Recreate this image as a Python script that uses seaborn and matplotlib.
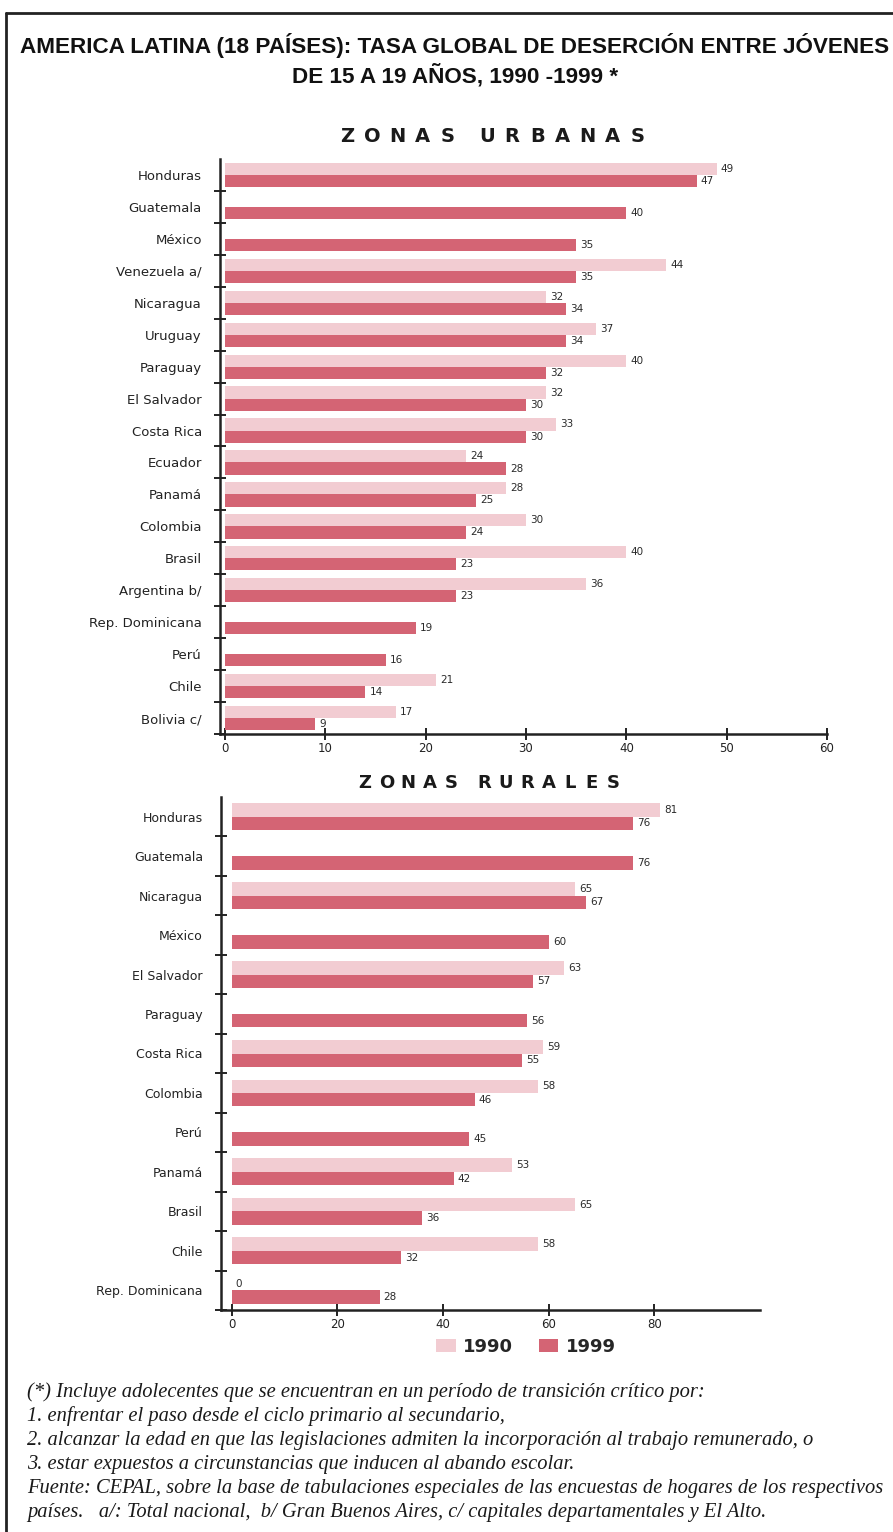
import numpy as np
import pandas as pd
import seaborn as sns
import matplotlib.pyplot as plt
from matplotlib.lines import Line2D

# Data
urban_countries = ["Honduras", "Guatemala", "México", "Venezuela a/", "Nicaragua",
                   "Uruguay", "Paraguay", "El Salvador", "Costa Rica", "Ecuador",
                   "Panamá", "Colombia", "Brasil", "Argentina b/", "Rep. Dominicana",
                   "Perú", "Chile", "Bolivia c/"]
urban_1990 = [49, np.nan, np.nan, 44, 32, 37, 40, 32, 33, 24, 28, 30, 40, 36,
              np.nan, np.nan, 21, 17]
urban_1999 = [47, 40, 35, 35, 34, 34, 32, 30, 30, 28, 25, 24, 23, 23, 19, 16, 14, 9]

rural_countries = ["Honduras", "Guatemala", "Nicaragua", "México", "El Salvador",
                   "Paraguay", "Costa Rica", "Colombia", "Perú", "Panamá", "Brasil",
                   "Chile", "Rep. Dominicana"]
rural_1990 = [81, np.nan, 65, np.nan, 63, np.nan, 59, 58, np.nan, 53, 65, 58, 0]
rural_1999 = [76, 76, 67, 60, 57, 56, 55, 46, 45, 42, 36, 32, 28]

years = ["1990", "1999"]
colors = ["#F2CCD2", "#D46474"]

urban_ticks = [0, 10, 20, 30, 40, 50, 60]
rural_ticks = [0, 20, 40, 60, 80]


def long_df(countries, v90, v99):
    df = pd.DataFrame({"pais": countries, "1990": v90, "1999": v99})
    df = df.melt(id_vars="pais", var_name="anio", value_name="valor")
    return df.dropna()


sns.set_style("ticks")
plt.rcParams["font.family"] = ["DejaVu Sans"]

W, H = 893, 1532
fig = plt.figure(figsize=(W / 100, H / 100), dpi=100)


def fx(px):
    return px / W


def fy(px):
    return 1 - px / H


def panel(rect, countries, v90, v99, xlim, xticks, width, legend, labelsize):
    ax = fig.add_axes(rect)
    df = long_df(countries, v90, v99)
    sns.barplot(data=df, x="valor", y="pais", hue="anio", order=countries,
                hue_order=years, palette=colors, orient="h", width=width,
                saturation=1, errorbar=None, legend=legend, ax=ax, linewidth=0)
    for cont in ax.containers:
        ax.bar_label(cont, fmt="%.0f", padding=3, fontsize=7.5, color="#2a2a2a")
    ax.set_xlim(*xlim)
    ax.set_ylim(len(countries) - 0.5, -0.5)
    ax.set_xticks(xticks)
    ax.set_xlabel("")
    ax.set_ylabel("")
    ax.set_yticks(np.arange(len(countries)) + 0.5, minor=True)
    ax.tick_params(axis="y", which="major", length=0, pad=13, labelsize=labelsize,
                   labelcolor="#222222")
    ax.tick_params(axis="y", which="minor", direction="inout", length=8,
                   width=1.4, color="#222222")
    ax.tick_params(axis="x", direction="inout", length=8, width=1.4,
                   color="#222222", labelsize=8.5, labelcolor="#222222", pad=2)
    sns.despine(ax=ax)
    for s in ["left", "bottom"]:
        ax.spines[s].set_linewidth(1.8)
        ax.spines[s].set_color("#222222")
    return ax


ax1 = panel([fx(220), fy(734), fx(827 - 220), (734 - 159) / H],
            urban_countries, urban_1990, urban_1999, (-0.5, 60), urban_ticks,
            0.76, False, 9.5)
ax2 = panel([fx(221), fy(1310), fx(760 - 221), (1310 - 797) / H],
            rural_countries, rural_1990, rural_1999, (-2, 100), rural_ticks,
            0.68, True, 9)

leg = ax2.get_legend()
handles = leg.legend_handles
leg.remove()
fig.legend(handles, years, loc="center left", ncol=2, frameon=False,
           bbox_to_anchor=(fx(420), fy(1347)),
           prop={"weight": "bold", "size": 13}, handlelength=1.1,
           handleheight=0.7, columnspacing=1.4, handletextpad=0.4)

# Titles
title_font = ["Liberation Sans", "DejaVu Sans"]
fig.text(fx(455), fy(46), "AMERICA LATINA (18 PAÍSES): TASA GLOBAL DE DESERCIÓN ENTRE JÓVENES",
         ha="center", va="center", fontsize=16.2, weight="bold", family=title_font,
         color="#111111")
fig.text(fx(455), fy(76), "DE 15 A 19 AÑOS, 1990 -1999 *",
         ha="center", va="center", fontsize=16.2, weight="bold", family=title_font,
         color="#111111")


def spaced_title(text, x0, pitch, gap, y, size):
    # letter-spaced heading: even pitch inside words, wider gap between words
    x = x0
    for word in text.split(" "):
        for ch in word:
            fig.text(fx(x), fy(y), ch, ha="center", va="center",
                     fontsize=size, weight="bold", color="#1a1a1a")
            x += pitch
        x += gap - pitch


spaced_title("ZONAS URBANAS", 347, 25.2, 39, 136, 14)
spaced_title("ZONAS RURALES", 365, 21.5, 33, 783, 13)

# Footnote
notes = [
    "(*) Incluye adolecentes que se encuentran en un período de transición crítico por:",
    "1. enfrentar el paso desde el ciclo primario al secundario,",
    "2. alcanzar la edad en que las legislaciones admiten la incorporación al trabajo remunerado, o",
    "3. estar expuestos a circunstancias que inducen al abando escolar.",
    "Fuente: CEPAL, sobre la base de tabulaciones especiales de las encuestas de hogares de los respectivos",
    "países.   a/: Total nacional,  b/ Gran Buenos Aires, c/ capitales departamentales y El Alto.",
]
for i, line in enumerate(notes):
    fig.text(fx(27), fy(1392 + i * 24.2), line, ha="left", va="center",
             fontsize=14.8, style="italic", family=["Liberation Serif", "DejaVu Serif"],
             color="#1a1a1a")

# Frame
fig.add_artist(Line2D([fx(6), 1], [fy(13), fy(13)], color="#222222", lw=2))
fig.add_artist(Line2D([fx(6), fx(6)], [fy(13), 0], color="#222222", lw=2))

fig.savefig("out.png", dpi=100)
